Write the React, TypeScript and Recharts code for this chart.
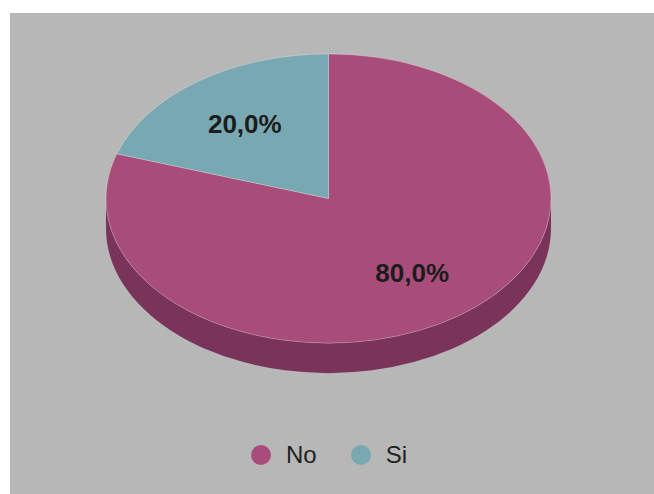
import React from 'react';
import { PieChart, Pie, Legend } from 'recharts';

const categories = ['No', 'Si'];
const values = [80, 20];
const labelTexts = ['80,0%', '20,0%'];

const TOP_COLORS = ['#A84C7A', '#78A8B2'];
const SIDE_COLORS = ['#7B3459', '#587E86'];

const data = categories.map((name, i) => ({ name, value: values[i] }));

const W = 644;
const H = 481;
const CX = 318.5;
const CY = 185.5;
const R = 222.5;
const TILT = 0.65;
const DEPTH = 30;
const RAD = Math.PI / 180;
const FONT = '"Liberation Sans", Arial, sans-serif';

function pt(cx: number, cy: number, r: number, a: number, dy = 0): [number, number] {
  return [cx + r * Math.cos(a * RAD), cy - r * TILT * Math.sin(a * RAD) + dy];
}

function topPath(cx: number, cy: number, r: number, a1: number, a2: number) {
  const delta = a2 - a1;
  const ry = r * TILT;
  if (Math.abs(delta) >= 359.99) {
    return `M${cx - r},${cy} A${r},${ry} 0 1 0 ${cx + r},${cy} A${r},${ry} 0 1 0 ${cx - r},${cy} Z`;
  }
  const [x1, y1] = pt(cx, cy, r, a1);
  const [x2, y2] = pt(cx, cy, r, a2);
  const large = Math.abs(delta) > 180 ? 1 : 0;
  const sweep = delta < 0 ? 1 : 0;
  return `M${cx},${cy} L${x1},${y1} A${r},${ry} 0 ${large} ${sweep} ${x2},${y2} Z`;
}

function sidePath(cx: number, cy: number, r: number, a1: number, a2: number) {
  const lo = Math.min(a1, a2);
  const hi = Math.max(a1, a2);
  const ry = r * TILT;
  let d = '';
  for (let k = -2; k <= 2; k++) {
    const s = Math.max(lo, 180 + 360 * k);
    const e = Math.min(hi, 360 + 360 * k);
    if (e - s > 0.01) {
      const [x1, y1] = pt(cx, cy, r, s);
      const [x2, y2] = pt(cx, cy, r, e);
      d += `M${x1},${y1} A${r},${ry} 0 0 0 ${x2},${y2} L${x2},${y2 + DEPTH} A${r},${ry} 0 0 1 ${x1},${y1 + DEPTH} Z `;
    }
  }
  return d;
}

const renderSide = (p: any) => {
  const d = sidePath(p.cx, p.cy, p.outerRadius, p.startAngle, p.endAngle);
  if (!d) return <g key={`side-${p.index}`} />;
  return <path key={`side-${p.index}`} d={d} fill={SIDE_COLORS[p.index]} stroke="none" />;
};

const renderTop = (p: any) => {
  const d = topPath(p.cx, p.cy, p.outerRadius, p.startAngle, p.endAngle);
  const mid = (p.startAngle + p.endAngle) / 2;
  const [tx, ty] = pt(p.cx, p.cy, p.outerRadius * 0.64, mid);
  return (
    <g key={`top-${p.index}`}>
      <path d={d} fill={TOP_COLORS[p.index]} stroke="rgba(255,255,255,0.25)" strokeWidth={1} />
      <text
        x={tx}
        y={ty}
        textAnchor="middle"
        dominantBaseline="central"
        fontFamily={FONT}
        fontWeight="bold"
        fontSize={26}
        fill="#1c1c1c"
      >
        {labelTexts[p.index]}
      </text>
    </g>
  );
};

const renderLegend = (props: any) => {
  const seen = new Set<string>();
  const items = (props.payload || []).filter((it: any) => {
    const v = String(it.value);
    if (it.type === 'none' || seen.has(v)) return false;
    seen.add(v);
    return true;
  });
  return (
    <div
      style={{
        display: 'flex',
        justifyContent: 'center',
        alignItems: 'center',
        height: 28,
        fontFamily: FONT,
        fontSize: 24,
        color: '#222',
        paddingRight: 6,
      }}
    >
      {items.map((it: any, i: number) => {
        const idx = categories.indexOf(String(it.value));
        return (
          <div key={i} style={{ display: 'flex', alignItems: 'center', marginRight: i < items.length - 1 ? 34 : 0 }}>
            <svg width={20} height={20} style={{ marginRight: 15 }}>
              <circle cx={10} cy={10} r={10} fill={TOP_COLORS[idx]} />
            </svg>
            <span style={{ lineHeight: '28px' }}>{it.value}</span>
          </div>
        );
      })}
    </div>
  );
};

export default function App() {
  return (
    <div style={{ position: 'absolute', left: 0, top: 0, width: 654, height: 494, background: '#ffffff' }}>
      <div style={{ position: 'absolute', left: 10, top: 13, width: W, height: H, background: '#B7B7B7' }}>
        <PieChart width={W} height={H} margin={{ top: 0, right: 0, bottom: 0, left: 0 }}>
          <Pie
            data={data}
            dataKey="value"
            nameKey="name"
            cx={CX}
            cy={CY}
            outerRadius={R}
            startAngle={90}
            endAngle={-270}
            fill="none"
            stroke="none"
            label={renderSide}
            labelLine={false}
            legendType="none"
            isAnimationActive={false}
          />
          <Pie
            data={data}
            dataKey="value"
            nameKey="name"
            cx={CX}
            cy={CY}
            outerRadius={R}
            startAngle={90}
            endAngle={-270}
            fill="none"
            stroke="none"
            label={renderTop}
            labelLine={false}
            legendType="circle"
            isAnimationActive={false}
          />
          <Legend
            verticalAlign="bottom"
            align="center"
            content={renderLegend}
            wrapperStyle={{ bottom: 25, left: 0, width: W }}
          />
        </PieChart>
      </div>
    </div>
  );
}
